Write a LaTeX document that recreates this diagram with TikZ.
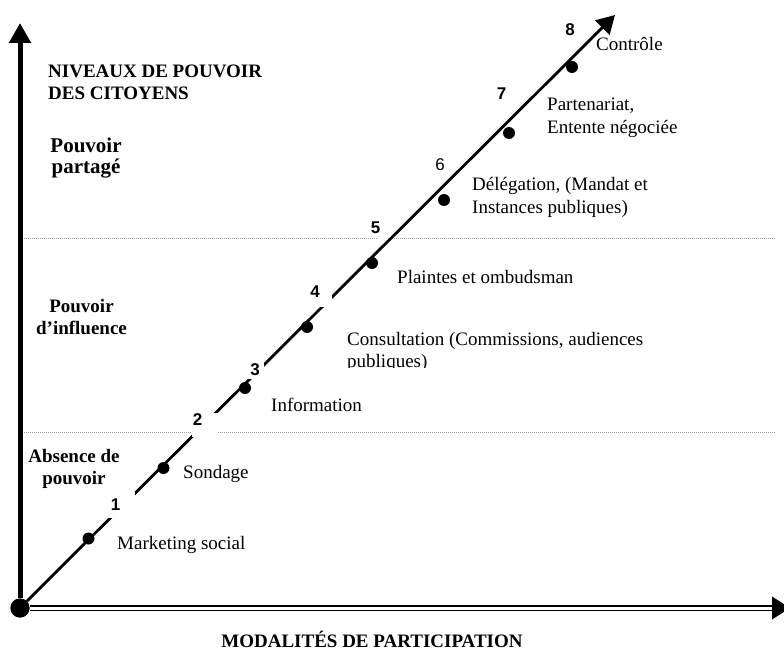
\documentclass[tikz,border=0pt]{standalone}
\usepackage{fontspec}
\setmainfont{Liberation Serif}
\newfontfamily\numfont{Liberation Sans}
\usetikzlibrary{arrows.meta}
\begin{document}
\begin{tikzpicture}[x=1pt,y=-1pt,
  txt/.style={font=\fontsize{19}{22}\selectfont, inner sep=0pt, anchor=base west},
  headl/.style={font=\bfseries\fontsize{19}{22}\selectfont, inner sep=0pt, anchor=base west},
  headc/.style={font=\bfseries\fontsize{19}{22}\selectfont, inner sep=0pt, anchor=base},
  headbig/.style={font=\bfseries\fontsize{21}{24}\selectfont, inner sep=0pt, anchor=base},
  num/.style={font=\numfont\bfseries\fontsize{17}{17}\selectfont, inner sep=0pt},
  numreg/.style={font=\numfont\fontsize{17}{17}\selectfont, inner sep=0pt},
  gapbox/.style={fill=white, draw=none, inner sep=0pt, rectangle},
  dot/.style={circle, fill=black, draw=none, inner sep=0pt, minimum size=12pt},
  guide/.style={draw=gray!75, line width=0.9pt, dash pattern=on 1pt off 1pt},
]
\useasboundingbox (0,0) rectangle (784,650);

% level separators
\coordinate (g1a) at (22,238);
\coordinate (g1b) at (775,238);
\coordinate (g2a) at (22,432);
\coordinate (g2b) at (775,432);
\draw[guide] (g1a) -- (g1b);
\draw[guide] (g2a) -- (g2b);

% origin and axes
\node[circle, fill=black, inner sep=0pt, minimum size=19pt] (O) at (20,608) {};
\coordinate (ytip) at (20,23);
\coordinate (xend) at (772,608);
\coordinate (dtip) at (615,15);
\draw[line width=5pt, -{Triangle[length=20pt,width=21pt]}] (O) -- (ytip);
\draw[line width=1.2pt, double=white, double distance=3pt] (O) -- (xend);
\fill (772,596.5) -- (790,608) -- (772,619.5) -- cycle;
\draw[line width=2.8pt, -{Triangle[length=18pt,width=20pt]}] (O) -- (dtip);
\node[circle, fill=black, inner sep=0pt, minimum size=19pt] at (O) {};

% gaps cut in the diagonal by the number boxes
\node[gapbox, minimum width=30pt, minimum height=26pt] (b1) at (120,505) {};
\node[gapbox, minimum width=26pt, minimum height=24pt] (b2) at (205,425) {};
\node[gapbox, minimum width=18pt, minimum height=19pt] (b3) at (255,369.5) {};
\node[gapbox, minimum width=27pt, minimum height=25pt] (b4) at (318.5,294.5) {};
\node[gapbox, minimum width=10pt, minimum height=11pt] (b5) at (382,234.5) {};

% numbers
\node[num] (n1) at (115.5,505) {1};
\node[num] (n2) at (197.5,420) {2};
\node[num] (n3) at (255,370) {3};
\node[num] (n4) at (315,292) {4};
\node[num] (n5) at (375.5,227.5) {5};
\node[numreg] (n6) at (440,164.5) {6};
\node[num] (n7) at (501.5,93.5) {7};
\node[num] (n8) at (570,29.5) {8};

% dots
\node[dot] (d1) at (88.5,538.5) {};
\node[dot] (d2) at (163.5,468) {};
\node[dot] (d3) at (245,388) {};
\node[dot] (d4) at (307,327) {};
\node[dot] (d5) at (372,263) {};
\node[dot] (d6) at (444,200) {};
\node[dot] (d7) at (509,133) {};
\node[dot] (d8) at (572,67) {};

% heading and levels
\node[headl] (h1) at (48,78) {NIVEAUX DE POUVOIR};
\node[headl] (h2) at (48,100) {DES CITOYENS};
\node[headbig] (p1) at (86,152) {Pouvoir};
\node[headbig] (p2) at (86,173) {partagé};
\node[headc] (i1) at (81.5,312) {Pouvoir};
\node[headc] (i2) at (81.5,334) {d’influence};
\node[headc] (a1) at (74,462) {Absence de};
\node[headc] (a2) at (74,484) {pouvoir};
\node[headc] (xl) at (372,647) {MODALITÉS DE PARTICIPATION};

% modalities
\node[txt] (t1) at (117,549) {Marketing social};
\node[txt] (t2) at (183,478) {Sondage};
\node[txt] (t3) at (271,411) {Information};
\begin{scope}
\clip (340,320) rectangle (700,367);
\node[txt] (t4a) at (347,345) {Consultation (Commissions, audiences};
\node[txt] (t4b) at (347,367) {publiques)};
\end{scope}
\node[txt] (t5) at (397,283) {Plaintes et ombudsman};
\node[txt] (t6a) at (472,190) {Délégation, (Mandat et};
\node[txt] (t6b) at (472,213) {Instances publiques)};
\node[txt] (t7a) at (547,111) {Partenariat,};
\node[txt] (t7b) at (547,133) {Entente négociée};
\node[txt] (t8) at (596,51) {Contrôle};
\end{tikzpicture}
\end{document}
